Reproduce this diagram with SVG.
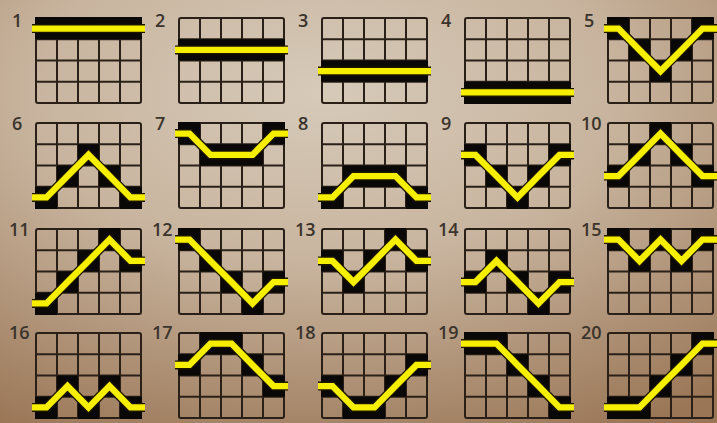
<svg xmlns="http://www.w3.org/2000/svg" xmlns:xlink="http://www.w3.org/1999/xlink" width="717" height="423" viewBox="0 0 717 423">
<defs>
<radialGradient id="bg" cx="0.45" cy="0.22" r="0.9">
<stop offset="0" stop-color="#d6cab9"/>
<stop offset="0.45" stop-color="#c8b49e"/>
<stop offset="1" stop-color="#9a7656"/>
</radialGradient>
<symbol id="grid" overflow="visible">
<path class="gl" d="M21 0V85M42 0V85M63 0V85M84 0V85M0 21.25H105M0 42.5H105M0 63.75H105"/>
<rect class="gl" x="0" y="0" width="105" height="85" rx="2"/>
</symbol>
<style>
.gl{fill:none;stroke:#2a2018;stroke-width:2}
.cell{fill:#0a0806}
.edge{fill:none;stroke:#1c1600;stroke-width:9;stroke-linejoin:miter}
.line{fill:none;stroke:#f6f000;stroke-width:6.4;stroke-linejoin:miter}
.num{font-family:"Open Sans","DejaVu Sans",sans-serif;font-size:18px;font-weight:600;fill:#3b342c}
</style>
</defs>
<rect width="717" height="423" fill="url(#bg)"/>

<g id="line1" transform="translate(36,18)">
<text class="num" x="-24" y="9">1</text>
<use xlink:href="#grid"/>
<rect class="cell" x="-1" y="-1" width="107" height="22.25"/>
<path class="edge" d="M-4 10.6H109"/><path class="line" d="M-4 10.6H109"/>
</g>
<g id="line2" transform="translate(179,18)">
<text class="num" x="-24" y="9">2</text>
<use xlink:href="#grid"/>
<rect class="cell" x="-1" y="21.25" width="107" height="21.25"/>
<path class="edge" d="M-4 31.9H109"/><path class="line" d="M-4 31.9H109"/>
</g>
<g id="line3" transform="translate(322,18)">
<text class="num" x="-24" y="9">3</text>
<use xlink:href="#grid"/>
<rect class="cell" x="-1" y="42.5" width="107" height="21.25"/>
<path class="edge" d="M-4 53.1H109"/><path class="line" d="M-4 53.1H109"/>
</g>
<g id="line4" transform="translate(465,18)">
<text class="num" x="-24" y="9">4</text>
<use xlink:href="#grid"/>
<rect class="cell" x="-1" y="63.75" width="107" height="22.25"/>
<path class="edge" d="M-4 74.4H109"/><path class="line" d="M-4 74.4H109"/>
</g>
<g id="line5" transform="translate(608,18)">
<text class="num" x="-24" y="9">5</text>
<use xlink:href="#grid"/>
<rect class="cell" x="-1" y="-1" width="22" height="22.25"/><rect class="cell" x="21" y="21.25" width="21" height="21.25"/><rect class="cell" x="42" y="42.5" width="21" height="21.25"/><rect class="cell" x="63" y="21.25" width="21" height="21.25"/><rect class="cell" x="84" y="-1" width="22" height="22.25"/>
<path class="edge" d="M-4 10.6H10.5L31.5 31.9L52.5 53.1L73.5 31.9L94.5 10.6H109"/><path class="line" d="M-4 10.6H10.5L31.5 31.9L52.5 53.1L73.5 31.9L94.5 10.6H109"/>
</g>

<g id="line6" transform="translate(36,123)">
<text class="num" x="-24" y="7">6</text>
<use xlink:href="#grid"/>
<rect class="cell" x="-1" y="63.75" width="22" height="22.25"/><rect class="cell" x="21" y="42.5" width="21" height="21.25"/><rect class="cell" x="42" y="21.25" width="21" height="21.25"/><rect class="cell" x="63" y="42.5" width="21" height="21.25"/><rect class="cell" x="84" y="63.75" width="22" height="22.25"/>
<path class="edge" d="M-4 74.4H10.5L31.5 53.1L52.5 31.9L73.5 53.1L94.5 74.4H109"/><path class="line" d="M-4 74.4H10.5L31.5 53.1L52.5 31.9L73.5 53.1L94.5 74.4H109"/>
</g>
<g id="line7" transform="translate(179,123)">
<text class="num" x="-24" y="7">7</text>
<use xlink:href="#grid"/>
<rect class="cell" x="-1" y="-1" width="22" height="22.25"/><rect class="cell" x="21" y="21.25" width="63" height="21.25"/><rect class="cell" x="84" y="-1" width="22" height="22.25"/>
<path class="edge" d="M-4 10.6H10.5L31.5 31.9H73.5L94.5 10.6H109"/><path class="line" d="M-4 10.6H10.5L31.5 31.9H73.5L94.5 10.6H109"/>
</g>
<g id="line8" transform="translate(322,123)">
<text class="num" x="-24" y="7">8</text>
<use xlink:href="#grid"/>
<rect class="cell" x="-1" y="63.75" width="22" height="22.25"/><rect class="cell" x="21" y="42.5" width="63" height="21.25"/><rect class="cell" x="84" y="63.75" width="22" height="22.25"/>
<path class="edge" d="M-4 74.4H10.5L31.5 53.1H73.5L94.5 74.4H109"/><path class="line" d="M-4 74.4H10.5L31.5 53.1H73.5L94.5 74.4H109"/>
</g>
<g id="line9" transform="translate(465,123)">
<text class="num" x="-24" y="7">9</text>
<use xlink:href="#grid"/>
<rect class="cell" x="-1" y="21.25" width="22" height="21.25"/><rect class="cell" x="21" y="42.5" width="21" height="21.25"/><rect class="cell" x="42" y="63.75" width="21" height="22.25"/><rect class="cell" x="63" y="42.5" width="21" height="21.25"/><rect class="cell" x="84" y="21.25" width="22" height="21.25"/>
<path class="edge" d="M-4 31.9H10.5L31.5 53.1L52.5 74.4L73.5 53.1L94.5 31.9H109"/><path class="line" d="M-4 31.9H10.5L31.5 53.1L52.5 74.4L73.5 53.1L94.5 31.9H109"/>
</g>
<g id="line10" transform="translate(608,123)">
<text class="num" x="-27" y="7">10</text>
<use xlink:href="#grid"/>
<rect class="cell" x="-1" y="42.5" width="22" height="21.25"/><rect class="cell" x="21" y="21.25" width="21" height="21.25"/><rect class="cell" x="42" y="-1" width="21" height="22.25"/><rect class="cell" x="63" y="21.25" width="21" height="21.25"/><rect class="cell" x="84" y="42.5" width="22" height="21.25"/>
<path class="edge" d="M-4 53.1H10.5L31.5 31.9L52.5 10.6L73.5 31.9L94.5 53.1H109"/><path class="line" d="M-4 53.1H10.5L31.5 31.9L52.5 10.6L73.5 31.9L94.5 53.1H109"/>
</g>

<g id="line11" transform="translate(36,229)">
<text class="num" x="-27" y="7">11</text>
<use xlink:href="#grid"/>
<rect class="cell" x="-1" y="63.75" width="22" height="22.25"/><rect class="cell" x="21" y="42.5" width="21" height="21.25"/><rect class="cell" x="42" y="21.25" width="21" height="21.25"/><rect class="cell" x="63" y="-1" width="21" height="22.25"/><rect class="cell" x="84" y="21.25" width="22" height="21.25"/>
<path class="edge" d="M-4 74.4H10.5L31.5 53.1L52.5 31.9L73.5 10.6L94.5 31.9H109"/><path class="line" d="M-4 74.4H10.5L31.5 53.1L52.5 31.9L73.5 10.6L94.5 31.9H109"/>
</g>
<g id="line12" transform="translate(179,229)">
<text class="num" x="-27" y="7">12</text>
<use xlink:href="#grid"/>
<rect class="cell" x="-1" y="-1" width="22" height="22.25"/><rect class="cell" x="21" y="21.25" width="21" height="21.25"/><rect class="cell" x="42" y="42.5" width="21" height="21.25"/><rect class="cell" x="63" y="63.75" width="21" height="22.25"/><rect class="cell" x="84" y="42.5" width="22" height="21.25"/>
<path class="edge" d="M-4 10.6H10.5L31.5 31.9L52.5 53.1L73.5 74.4L94.5 53.1H109"/><path class="line" d="M-4 10.6H10.5L31.5 31.9L52.5 53.1L73.5 74.4L94.5 53.1H109"/>
</g>
<g id="line13" transform="translate(322,229)">
<text class="num" x="-27" y="7">13</text>
<use xlink:href="#grid"/>
<rect class="cell" x="-1" y="21.25" width="22" height="21.25"/><rect class="cell" x="21" y="42.5" width="21" height="21.25"/><rect class="cell" x="42" y="21.25" width="21" height="21.25"/><rect class="cell" x="63" y="-1" width="21" height="22.25"/><rect class="cell" x="84" y="21.25" width="22" height="21.25"/>
<path class="edge" d="M-4 31.9H10.5L31.5 53.1L52.5 31.9L73.5 10.6L94.5 31.9H109"/><path class="line" d="M-4 31.9H10.5L31.5 53.1L52.5 31.9L73.5 10.6L94.5 31.9H109"/>
</g>
<g id="line14" transform="translate(465,229)">
<text class="num" x="-27" y="7">14</text>
<use xlink:href="#grid"/>
<rect class="cell" x="-1" y="42.5" width="22" height="21.25"/><rect class="cell" x="21" y="21.25" width="21" height="21.25"/><rect class="cell" x="42" y="42.5" width="21" height="21.25"/><rect class="cell" x="63" y="63.75" width="21" height="22.25"/><rect class="cell" x="84" y="42.5" width="22" height="21.25"/>
<path class="edge" d="M-4 53.1H10.5L31.5 31.9L52.5 53.1L73.5 74.4L94.5 53.1H109"/><path class="line" d="M-4 53.1H10.5L31.5 31.9L52.5 53.1L73.5 74.4L94.5 53.1H109"/>
</g>
<g id="line15" transform="translate(608,229)">
<text class="num" x="-27" y="7">15</text>
<use xlink:href="#grid"/>
<rect class="cell" x="-1" y="-1" width="22" height="22.25"/><rect class="cell" x="21" y="21.25" width="21" height="21.25"/><rect class="cell" x="42" y="-1" width="21" height="22.25"/><rect class="cell" x="63" y="21.25" width="21" height="21.25"/><rect class="cell" x="84" y="-1" width="22" height="22.25"/>
<path class="edge" d="M-4 10.6H10.5L31.5 31.9L52.5 10.6L73.5 31.9L94.5 10.6H109"/><path class="line" d="M-4 10.6H10.5L31.5 31.9L52.5 10.6L73.5 31.9L94.5 10.6H109"/>
</g>

<g id="line16" transform="translate(36,333)">
<text class="num" x="-27" y="6">16</text>
<use xlink:href="#grid"/>
<rect class="cell" x="-1" y="63.75" width="22" height="22.25"/><rect class="cell" x="21" y="42.5" width="21" height="21.25"/><rect class="cell" x="42" y="63.75" width="21" height="22.25"/><rect class="cell" x="63" y="42.5" width="21" height="21.25"/><rect class="cell" x="84" y="63.75" width="22" height="22.25"/>
<path class="edge" d="M-4 74.4H10.5L31.5 53.1L52.5 74.4L73.5 53.1L94.5 74.4H109"/><path class="line" d="M-4 74.4H10.5L31.5 53.1L52.5 74.4L73.5 53.1L94.5 74.4H109"/>
</g>
<g id="line17" transform="translate(179,333)">
<text class="num" x="-27" y="6">17</text>
<use xlink:href="#grid"/>
<rect class="cell" x="-1" y="21.25" width="22" height="21.25"/><rect class="cell" x="21" y="-1" width="42" height="22.25"/><rect class="cell" x="63" y="21.25" width="21" height="21.25"/><rect class="cell" x="84" y="42.5" width="22" height="21.25"/>
<path class="edge" d="M-4 31.9H10.5L31.5 10.6H52.5L73.5 31.9L94.5 53.1H109"/><path class="line" d="M-4 31.9H10.5L31.5 10.6H52.5L73.5 31.9L94.5 53.1H109"/>
</g>
<g id="line18" transform="translate(322,333)">
<text class="num" x="-27" y="6">18</text>
<use xlink:href="#grid"/>
<rect class="cell" x="-1" y="42.5" width="22" height="21.25"/><rect class="cell" x="21" y="63.75" width="42" height="22.25"/><rect class="cell" x="63" y="42.5" width="21" height="21.25"/><rect class="cell" x="84" y="21.25" width="22" height="21.25"/>
<path class="edge" d="M-4 53.1H10.5L31.5 74.4H52.5L73.5 53.1L94.5 31.9H109"/><path class="line" d="M-4 53.1H10.5L31.5 74.4H52.5L73.5 53.1L94.5 31.9H109"/>
</g>
<g id="line19" transform="translate(465,333)">
<text class="num" x="-27" y="6">19</text>
<use xlink:href="#grid"/>
<rect class="cell" x="-1" y="-1" width="43" height="22.25"/><rect class="cell" x="42" y="21.25" width="21" height="21.25"/><rect class="cell" x="63" y="42.5" width="21" height="21.25"/><rect class="cell" x="84" y="63.75" width="22" height="22.25"/>
<path class="edge" d="M-4 10.6H31.5L52.5 31.9L73.5 53.1L94.5 74.4H109"/><path class="line" d="M-4 10.6H31.5L52.5 31.9L73.5 53.1L94.5 74.4H109"/>
</g>
<g id="line20" transform="translate(608,333)">
<text class="num" x="-27" y="6">20</text>
<use xlink:href="#grid"/>
<rect class="cell" x="-1" y="63.75" width="43" height="22.25"/><rect class="cell" x="42" y="42.5" width="21" height="21.25"/><rect class="cell" x="63" y="21.25" width="21" height="21.25"/><rect class="cell" x="84" y="-1" width="22" height="22.25"/>
<path class="edge" d="M-4 74.4H31.5L52.5 53.1L73.5 31.9L94.5 10.6H109"/><path class="line" d="M-4 74.4H31.5L52.5 53.1L73.5 31.9L94.5 10.6H109"/>
</g>

<g id="connectors"/>
</svg>
